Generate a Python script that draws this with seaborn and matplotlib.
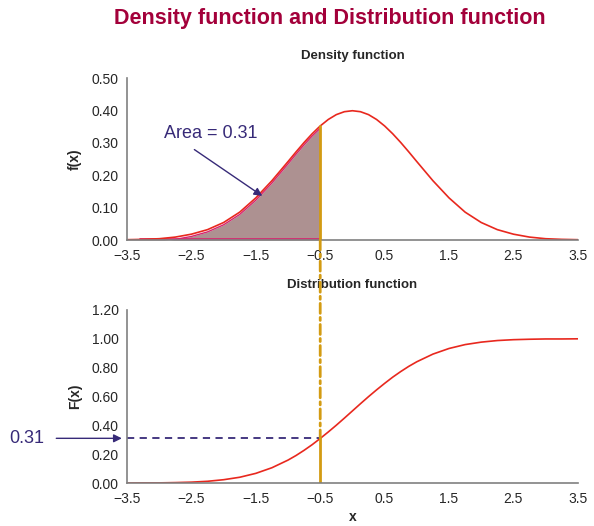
import numpy as np
import pandas as pd
import matplotlib
matplotlib.use('Agg')
import matplotlib.pyplot as plt
import seaborn as sns
from matplotlib.patches import ConnectionPatch

# data (standard normal)
x_vals = [-3.5, -3.25, -3.0, -2.75, -2.5, -2.25, -2.0, -1.75, -1.5, -1.25, -1.0, -0.875, -0.75, -0.625,
          -0.5, -0.375, -0.25, -0.125, 0.0, 0.125, 0.25, 0.375, 0.5, 0.625, 0.75, 0.875, 1.0, 1.25,
          1.5, 1.75, 2.0, 2.25, 2.5, 2.75, 3.0, 3.25, 3.5]
density = [0.001, 0.002, 0.004, 0.009, 0.018, 0.032, 0.054, 0.086, 0.130, 0.183, 0.242, 0.272, 0.301, 0.328,
           0.352, 0.372, 0.387, 0.396, 0.399, 0.396, 0.387, 0.372, 0.352, 0.328, 0.301, 0.272, 0.242, 0.183,
           0.130, 0.086, 0.054, 0.032, 0.018, 0.009, 0.004, 0.002, 0.001]
distribution = [0.000, 0.001, 0.001, 0.003, 0.006, 0.012, 0.023, 0.040, 0.067, 0.106, 0.159, 0.191, 0.227,
                0.266, 0.309, 0.354, 0.401, 0.450, 0.500, 0.550, 0.599, 0.646, 0.691, 0.734, 0.773, 0.809,
                0.841, 0.894, 0.933, 0.960, 0.977, 0.988, 0.994, 0.997, 0.999, 0.999, 1.000]
cut_x = -0.5
area = 0.31
x_ticks = [-3.5, -2.5, -1.5, -0.5, 0.5, 1.5, 2.5, 3.5]
top_yticks = [0.0, 0.1, 0.2, 0.3, 0.4, 0.5]
bot_yticks = [0.0, 0.2, 0.4, 0.6, 0.8, 1.0, 1.2]

df = pd.DataFrame({'x': x_vals, 'f': density, 'F': distribution})

sns.set_style('white')
plt.rcParams['font.family'] = ['Liberation Sans', 'DejaVu Sans']

red = '#e8281e'
gold = '#d39b12'
navy = '#372a78'
gray = '#808080'

fig = plt.figure(figsize=(5.94, 5.26), dpi=100)
ax1 = fig.add_axes([0.2138, 0.5437, 0.759, 0.308])
ax2 = fig.add_axes([0.2138, 0.0817, 0.759, 0.329])

fig.text(0.556, 0.965, 'Density function and Distribution function', ha='center', va='center',
         fontsize=15.5, fontweight='bold', color='#a3003a')

# density panel
shade = df[df['x'] <= cut_x]
ax1.fill_between(shade['x'], 0, shade['f'] - 0.007, color='#ad9191', lw=0)
ax1.plot(shade['x'], shade['f'] - 0.007, color='#d6246e', lw=1.0)
ax1.plot([-3.3, cut_x], [0.002, 0.002], color='#d6246e', lw=1.2)
sns.lineplot(data=df, x='x', y='f', ax=ax1, color=red, lw=1.2)
ax1.plot([cut_x, cut_x], [0, df.loc[df['x'] == cut_x, 'f'].iloc[0]], color=gold, lw=2)
ax1.annotate(f'Area = {area}', xy=(-1.4, 0.136), xytext=(-2.2, 0.33), ha='center', va='center',
             fontsize=13, color=navy,
             arrowprops=dict(arrowstyle='-|>', color=navy, lw=1, shrinkA=6, shrinkB=0,
                             mutation_scale=12, relpos=(0.2, 0)))
ax1.set_xlim(-3.5, 3.5)
ax1.set_ylim(0, 0.5)
ax1.set_xticks(x_ticks)
ax1.set_yticks(top_yticks)
ax1.set_yticklabels([f'{v:.2f}' for v in top_yticks])
ax1.set_xticklabels([f'{v:.1f}'.replace('-', '\u2212') for v in x_ticks])
ax1.set_xlabel('')
ax1.set_ylabel('f(x)', fontweight='bold', fontsize=10, labelpad=7)
ax1.set_title('Density function', fontweight='bold', fontsize=9.5, pad=14)

# distribution panel
sns.lineplot(data=df, x='x', y='F', ax=ax2, color=red, lw=1.2)
ax2.plot([-3.5, cut_x], [area, area], color=navy, lw=1.3, ls=(0, (4, 3)))
ax2.plot([cut_x, cut_x], [0, area], color=gold, lw=2)
ax2.set_xlim(-3.5, 3.5)
ax2.set_ylim(0, 1.2)
ax2.set_xticks(x_ticks)
ax2.set_yticks(bot_yticks)
ax2.set_yticklabels([f'{v:.2f}' for v in bot_yticks])
ax2.set_xticklabels([f'{v:.1f}'.replace('-', '\u2212') for v in x_ticks])
ax2.set_xlabel('x', fontweight='bold', fontsize=10, labelpad=3)
ax2.set_ylabel('F(x)', fontweight='bold', fontsize=10, labelpad=7)
ax2.set_title('Distribution function', fontweight='bold', fontsize=9.5, pad=16)

ax2.annotate(f'{area}', xy=(-3.58, area), xycoords='data', xytext=(-5.05, area),
             ha='center', va='center', fontsize=13, color=navy, annotation_clip=False,
             arrowprops=dict(arrowstyle='-|>', color=navy, lw=1, shrinkA=6, shrinkB=0,
                             mutation_scale=12))

# dash-dot link between the panels
con = ConnectionPatch(xyA=(cut_x, 0), coordsA=ax1.transData, xyB=(cut_x, area), coordsB=ax2.transData,
                      color=gold, lw=2, linestyle=(0, (3.6, 1.45, 1.1, 1.45)))
fig.add_artist(con)

for ax in (ax1, ax2):
    for s in ('top', 'right'):
        ax.spines[s].set_visible(False)
    for s in ('left', 'bottom'):
        ax.spines[s].set_color(gray)
        ax.spines[s].set_linewidth(1.2)
    ax.tick_params(axis='y', direction='out', length=3, color='#333333', labelsize=10, pad=3)
    ax.tick_params(axis='x', direction='inout', length=5, color='#333333', labelsize=10, pad=4)

fig.savefig('out.png', dpi=100)
